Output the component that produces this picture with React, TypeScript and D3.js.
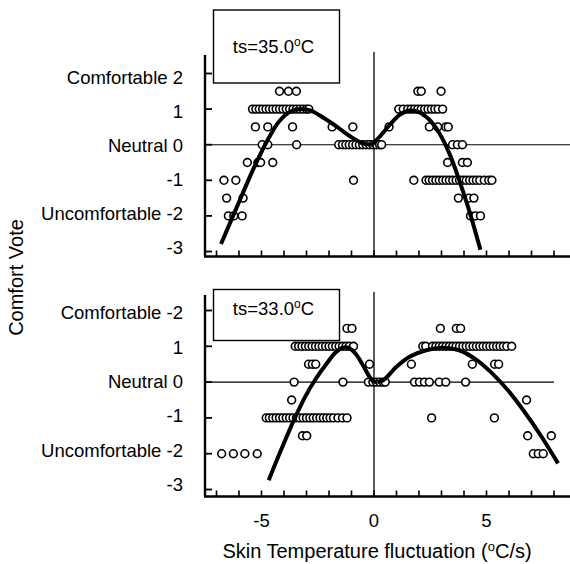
import React from 'react';
import * as d3 from 'd3';

// ---------- data ----------
const xTickValues = [-7, -6, -5, -4, -3, -2, -1, 0, 1, 2, 3, 4, 5, 6, 7, 8];
const xTickLabels = [-5, 0, 5];
const yTickValues = [2, 1, 0, -1, -2, -3];
const yLabelsTop = ['Comfortable 2', '1', 'Neutral 0', '-1', 'Uncomfortable -2', '-3'];
const yLabelsBottom = ['Comfortable -2', '1', 'Neutral 0', '-1', 'Uncomfortable -2', '-3'];

// ts = 35.0 °C observations [x, vote]
const pointsTop: [number, number][] = [
  [-4.2, 1.5], [-3.8, 1.5], [-3.45, 1.5], [1.95, 1.5], [2.1, 1.5], [2.98, 1.5],
  [-5.4, 1], [-5.25, 1], [-5.1, 1], [-4.95, 1], [-4.8, 1], [-4.65, 1], [-4.5, 1], [-4.35, 1], [-4.2, 1],
  [-4.05, 1], [-3.9, 1], [-3.75, 1], [-3.6, 1], [-3.45, 1], [-3.3, 1], [-3.15, 1], [-3.0, 1], [-2.9, 1],
  [1.1, 1], [1.3, 1], [1.5, 1], [1.65, 1], [1.8, 1], [1.95, 1], [2.1, 1], [2.25, 1], [2.4, 1], [2.55, 1],
  [2.7, 1], [2.85, 1], [3.05, 1],
  [-5.27, 0.5], [-4.72, 0.5], [-3.62, 0.5], [-1.86, 0.5], [-0.94, 0.5],
  [0.67, 0.5], [2.46, 0.5], [2.83, 0.5], [3.19, 0.5], [3.3, 0.5],
  [-4.97, 0], [-4.72, 0], [-3.44, 0],
  [-1.57, 0], [-1.4, 0], [-1.25, 0], [-1.1, 0], [-0.95, 0], [-0.8, 0], [-0.65, 0], [-0.5, 0], [-0.35, 0],
  [-0.2, 0], [-0.05, 0], [0.1, 0], [0.25, 0], [0.34, 0],
  [3.49, 0], [3.71, 0], [3.93, 0],
  [-5.63, -0.5], [-5.16, -0.5], [-5.04, -0.5], [-4.5, -0.5], [3.27, -0.5], [3.93, -0.5], [4.15, -0.5],
  [-6.67, -1], [-6.14, -1], [-0.91, -1], [1.77, -1],
  [2.31, -1], [2.45, -1], [2.6, -1], [2.75, -1], [2.9, -1], [3.05, -1], [3.2, -1], [3.35, -1], [3.5, -1],
  [3.65, -1], [3.8, -1], [3.95, -1], [4.1, -1], [4.25, -1], [4.4, -1], [4.55, -1], [4.7, -1], [4.9, -1],
  [5.1, -1], [5.24, -1],
  [-6.55, -1.5], [-5.82, -1.5], [3.75, -1.5], [4.22, -1.5], [4.44, -1.5],
  [-6.47, -2], [-6.23, -2], [-5.86, -2], [4.29, -2], [4.51, -2], [4.73, -2],
];

// ts = 33.0 °C observations [x, vote]
const pointsBottom: [number, number][] = [
  [-1.2, 1.5], [-0.98, 1.5], [2.95, 1.5], [3.66, 1.5], [3.85, 1.5],
  [-3.5, 1], [-3.35, 1], [-3.2, 1], [-3.05, 1], [-2.9, 1], [-2.75, 1], [-2.6, 1], [-2.45, 1], [-2.3, 1],
  [-2.15, 1], [-2.0, 1], [-1.85, 1], [-1.7, 1], [-1.55, 1], [-1.4, 1], [-1.25, 1], [-1.1, 1], [-0.91, 1],
  [2.17, 1], [2.3, 1], [2.6, 1], [2.75, 1], [2.9, 1], [3.05, 1], [3.2, 1], [3.35, 1], [3.5, 1], [3.65, 1],
  [3.8, 1], [3.95, 1], [4.1, 1], [4.25, 1], [4.4, 1], [4.55, 1], [4.7, 1], [4.85, 1], [5.0, 1], [5.15, 1],
  [5.3, 1], [5.45, 1], [5.6, 1], [5.75, 1], [5.9, 1], [6.12, 1],
  [-2.91, 0.5], [-2.74, 0.5], [-2.59, 0.5], [-0.2, 0.5], [1.66, 0.5], [4.37, 0.5], [5.36, 0.5], [5.54, 0.5],
  [-3.55, 0], [-1.38, 0], [-0.25, 0], [-0.05, 0], [0.1, 0], [0.25, 0], [0.4, 0], [0.5, 0],
  [1.8, 0], [2.02, 0], [2.24, 0], [2.46, 0], [2.9, 0], [3.19, 0], [4.07, 0],
  [-3.66, -0.5], [6.78, -0.5],
  [-4.79, -1], [-4.65, -1], [-4.5, -1], [-4.35, -1], [-4.2, -1], [-4.05, -1], [-3.9, -1], [-3.75, -1],
  [-3.6, -1], [-3.45, -1], [-3.3, -1], [-3.15, -1], [-3.0, -1], [-2.85, -1], [-2.7, -1], [-2.55, -1],
  [-2.4, -1], [-2.25, -1], [-2.1, -1], [-1.95, -1], [-1.8, -1], [-1.6, -1], [-1.4, -1], [-1.2, -1],
  [2.56, -1], [5.35, -1],
  [-3.18, -1.5], [-2.99, -1.5], [6.83, -1.5], [7.88, -1.5],
  [-6.77, -2], [-6.25, -2], [-5.74, -2], [-5.19, -2], [7.08, -2], [7.3, -2], [7.52, -2],
];

// fitted curves
const curveTopLeft: [number, number][] = [
  [-6.8, -2.79], [-5.89, -1.45], [-5.31, -0.61], [-4.72, 0.14], [-4.21, 0.66], [-3.69, 0.94], [-3.25, 1.0],
  [-2.81, 0.96], [-2.23, 0.75], [-1.64, 0.5], [-1.05, 0.23], [-0.47, 0.03], [0, 0],
];
const curveTopRight: [number, number][] = [
  [-0.1, 0], [0.26, 0.23], [0.7, 0.56], [1.14, 0.84], [1.58, 0.96], [2.02, 0.91], [2.46, 0.7], [2.9, 0.33],
  [3.34, -0.23], [3.78, -0.98], [4.22, -1.83], [4.73, -2.95],
];
const curveBottomLeft: [number, number][] = [
  [-4.68, -2.74], [-4.1, -1.85], [-3.55, -1.05], [-3.05, -0.4], [-2.6, 0.08], [-2.1, 0.52], [-1.72, 0.82],
  [-1.4, 0.96], [-1.1, 0.95], [-0.8, 0.78], [-0.5, 0.48], [-0.25, 0.2], [-0.05, 0.03], [0.15, 0],
];
const curveBottomRight: [number, number][] = [
  [0.15, 0], [0.41, 0.05], [1.0, 0.43], [1.58, 0.71], [2.32, 0.89], [3.05, 0.96], [3.78, 0.89], [4.51, 0.64],
  [5.24, 0.25], [5.98, -0.25], [6.71, -0.85], [7.44, -1.52], [8.18, -2.27],
];

// ---------- layout ----------
const W = 570;
const H = 564;
const FONT = '"Liberation Sans", Arial, Helvetica, sans-serif';
const x = d3.scaleLinear().domain([-7, 8]).range([216.5, 554]);
const axisLeft = 205;
const axisRight = 570;

type PanelDef = {
  yRange: [number, number];
  labelRange: [number, number];
  axisTop: number;
  axisBottom: number;
  zeroEnd: number;
  vTop: number;
  labels: string[];
  points: [number, number][];
  curves: [number, number][][];
  box: { x: number; y: number; w: number; h: number; ty: number; text: string };
  showXLabels: boolean;
};

const panels: PanelDef[] = [
  {
    yRange: [251.5, 73.5],
    labelRange: [247.5, 77.5],
    axisTop: 55,
    axisBottom: 256.5,
    zeroEnd: 570,
    vTop: 52,
    labels: yLabelsTop,
    points: pointsTop,
    curves: [curveTopLeft, curveTopRight],
    box: { x: 213.5, y: 10, w: 126, h: 73, ty: 53, text: 'ts=35.0' },
    showXLabels: false,
  },
  {
    yRange: [489.5, 310.5],
    labelRange: [484.5, 313],
    axisTop: 295,
    axisBottom: 496.5,
    zeroEnd: 554,
    vTop: 292,
    labels: yLabelsBottom,
    points: pointsBottom,
    curves: [curveBottomLeft, curveBottomRight],
    box: { x: 213.5, y: 289.5, w: 126, h: 51, ty: 315, text: 'ts=33.0' },
    showXLabels: true,
  },
];

function Panel({ p }: { p: PanelDef }) {
  const y = d3.scaleLinear().domain([-3, 2]).range(p.yRange);
  const yl = d3.scaleLinear().domain([-3, 2]).range(p.labelRange);
  const line = d3
    .line<[number, number]>()
    .x((d) => x(d[0]))
    .y((d) => y(d[1]))
    .curve(d3.curveCatmullRom.alpha(0.5));
  return (
    <g>
      {/* zero reference lines */}
      <line x1={axisLeft} x2={p.zeroEnd} y1={y(0)} y2={y(0)} stroke="#000" strokeWidth={1.1} />
      <line x1={x(0)} x2={x(0)} y1={p.vTop} y2={p.axisBottom} stroke="#000" strokeWidth={1.3} />
      {/* axes */}
      <line x1={axisLeft} x2={axisLeft} y1={p.axisTop} y2={p.axisBottom} stroke="#000" strokeWidth={2.4} />
      <line x1={axisLeft - 1} x2={axisRight} y1={p.axisBottom} y2={p.axisBottom} stroke="#000" strokeWidth={2.4} />
      {yTickValues.map((v, i) => (
        <g key={'yt' + i}>
          <line x1={axisLeft} x2={axisLeft + 7} y1={y(v)} y2={y(v)} stroke="#000" strokeWidth={1.8} />
          <text
            x={183}
            y={yl(v)}
            dy="0.35em"
            textAnchor="end"
            fontSize={18.5}
            fontFamily={FONT}
            fill="#000"
          >
            {p.labels[i]}
          </text>
        </g>
      ))}
      {xTickValues.map((v) => (
        <line key={'xt' + v} x1={x(v)} x2={x(v)} y1={p.axisBottom} y2={p.axisBottom - 6} stroke="#000" strokeWidth={1.6} />
      ))}
      {p.showXLabels &&
        xTickLabels.map((v) => (
          <text key={'xl' + v} x={x(v)} y={527} textAnchor="middle" fontSize={18.5} fontFamily={FONT} fill="#000">
            {v}
          </text>
        ))}
      {/* observations */}
      {p.points.map((d, i) => (
        <circle key={'pt' + i} cx={x(d[0])} cy={y(d[1])} r={3.9} fill="#fff" stroke="#000" strokeWidth={1.6} />
      ))}
      {/* fitted curves */}
      {p.curves.map((c, i) => (
        <path key={'c' + i} d={line(c) || ''} fill="none" stroke="#000" strokeWidth={4} strokeLinecap="butt" />
      ))}
      {/* label box */}
      <rect x={p.box.x} y={p.box.y} width={p.box.w} height={p.box.h} fill="#fff" stroke="#000" strokeWidth={1.4} />
      <text x={p.box.x + p.box.w / 2 - 3} y={p.box.ty} textAnchor="middle" fontSize={18.5} fontFamily={FONT} fill="#000">
        {p.box.text}
        <tspan fontSize={12} dy={-7}>o</tspan>
        <tspan dy={7}>C</tspan>
      </text>
    </g>
  );
}

export default function App() {
  return (
    <svg
      width={W}
      height={H}
      viewBox={`0 0 ${W} ${H}`}
      style={{ position: 'absolute', left: 0, top: 0, background: '#fff' }}
    >
      <rect x={0} y={0} width={W} height={H} fill="#fff" />
      {panels.map((p, i) => (
        <Panel key={i} p={p} />
      ))}
      <text
        transform="translate(23,277.5) rotate(-90)"
        textAnchor="middle"
        fontSize={20}
        fontFamily={FONT}
        fill="#000"
      >
        Comfort Vote
      </text>
      <text x={377} y={558} textAnchor="middle" fontSize={20} fontFamily={FONT} fill="#000">
        Skin Temperature fluctuation (
        <tspan fontSize={13} dy={-7}>o</tspan>
        <tspan dy={7}>C/s)</tspan>
      </text>
    </svg>
  );
}
